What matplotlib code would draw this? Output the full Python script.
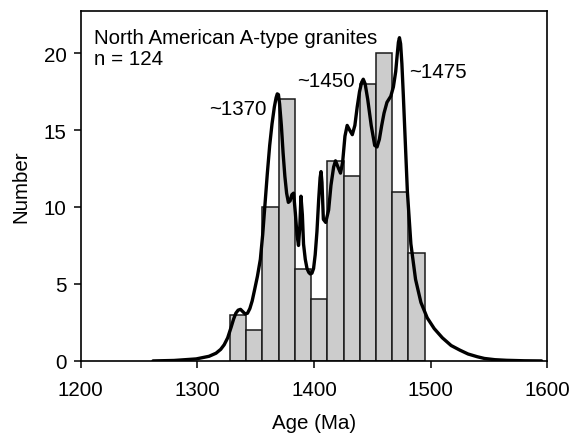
import matplotlib
matplotlib.use("Agg")
import matplotlib.pyplot as plt

plt.rcParams['font.family'] = ['Liberation Sans', 'DejaVu Sans']

# Histogram: bin starts (Ma) and counts
bin_starts = [1328.0, 1341.9, 1355.8, 1369.7, 1383.6, 1397.5, 1411.4, 1425.3, 1439.2, 1453.1, 1467.0, 1480.9]
bin_width = 13.9
counts = [3, 2, 10, 17, 6, 4, 13, 12, 18, 20, 11, 7]

# Probability density curve (scaled to counts)
curve_age = [1262, 1280, 1299, 1310, 1316, 1320, 1323, 1326, 1329, 1331, 1333, 1335, 1337, 1339,
             1341, 1343, 1345, 1347, 1349, 1351.5, 1354, 1356, 1358, 1360, 1362, 1364, 1366,
             1367.5, 1368.5, 1369.5, 1370.5, 1372, 1373.5, 1375, 1376.5, 1378, 1379.5, 1381,
             1382.5, 1384, 1385.4, 1386.7, 1387.8, 1388.8, 1390, 1391, 1392.5, 1394, 1395.5,
             1396.8, 1398.2, 1399.6, 1401, 1402.5, 1404, 1405.2, 1406, 1406.8, 1408, 1410,
             1412.5, 1414.5, 1416.8, 1418.4, 1420.5, 1422.7, 1424.5, 1426.5, 1428.4, 1430.5,
             1432.8, 1435, 1437, 1439, 1440.8, 1442.2, 1443.8, 1446, 1449, 1452, 1454, 1456,
             1458, 1460, 1462.5, 1465.8, 1468, 1470, 1471.3, 1472.3, 1473.2, 1474.2, 1475.3,
             1476.5, 1478, 1480, 1483, 1487, 1491.6, 1497, 1503, 1510, 1517.5, 1525, 1532,
             1540, 1546, 1555, 1565, 1580, 1595]
curve_num = [0.0, 0.03, 0.13, 0.3, 0.5, 0.75, 1.05, 1.5, 2.2, 2.7, 3.1, 3.3, 3.35, 3.2,
             3.05, 3.1, 3.4, 3.9, 4.6, 5.5, 6.6, 8.2, 10.2, 12.2, 14.0, 15.4, 16.5,
             17.1, 17.35, 17.3, 16.7, 15.3, 13.5, 12.0, 10.9, 10.3, 10.4, 10.8,
             10.9, 9.6, 8.2, 7.5, 8.7, 10.7, 9.5, 7.6, 6.6, 6.0, 5.75,
             5.65, 5.7, 6.0, 6.9, 8.4, 10.5, 11.9, 12.3, 11.6, 9.2, 9.0,
             9.8, 11.4, 12.6, 13.0, 12.6, 12.2, 12.9, 14.6, 15.3, 15.0,
             14.7, 15.3, 16.5, 17.5, 18.1, 18.3, 18.0, 17.0, 15.3, 14.0, 13.9, 14.4,
             15.3, 16.1, 16.8, 17.2, 17.8, 18.8, 19.9, 20.7, 21.0, 20.6, 19.3,
             17.3, 14.6, 11.0, 7.6, 5.3, 3.8, 2.8, 2.1, 1.5, 1.0, 0.7, 0.45,
             0.27, 0.16, 0.08, 0.04, 0.01, 0.0]

peak_labels = ["~1370", "~1450", "~1475"]
xticks = [1200, 1300, 1400, 1500, 1600]
yticks = [0, 5, 10, 15, 20]

fs = 14.8

fig = plt.figure(figsize=(5.72, 4.35), dpi=100)
ax = fig.add_axes([0.141, 0.168, 0.816, 0.805])

ax.bar(bin_starts, counts, width=bin_width, align='edge', color='#cccccc',
       edgecolor='#1a1a1a', linewidth=1.1, zorder=2)
ax.plot(curve_age, curve_num, color='black', linewidth=2.4, zorder=3,
        solid_joinstyle='round', solid_capstyle='round')

ax.set_xlim(1200, 1600)
ax.set_ylim(0, 22.75)
ax.set_xticks(xticks)
ax.set_yticks(yticks)
ax.tick_params(direction='out', length=5, width=1.1, labelsize=fs)
ax.tick_params(axis='x', pad=9)
ax.tick_params(axis='y', pad=5)
for s in ax.spines.values():
    s.set_linewidth(1.2)

ax.set_xlabel("Age (Ma)", fontsize=fs, labelpad=10)
ax.set_ylabel("Number", fontsize=fs, labelpad=10)

ax.text(0.028, 0.952, "North American A-type granites\nn = 124", transform=ax.transAxes,
        fontsize=fs, va='top', ha='left', linespacing=1.15)
ax.text(1359, 16.4, peak_labels[0], fontsize=fs, ha='right', va='center')
ax.text(1435, 18.2, peak_labels[1], fontsize=fs, ha='right', va='center')
ax.text(1481.5, 18.8, peak_labels[2], fontsize=fs, ha='left', va='center')

fig.savefig("out.png", dpi=100)
